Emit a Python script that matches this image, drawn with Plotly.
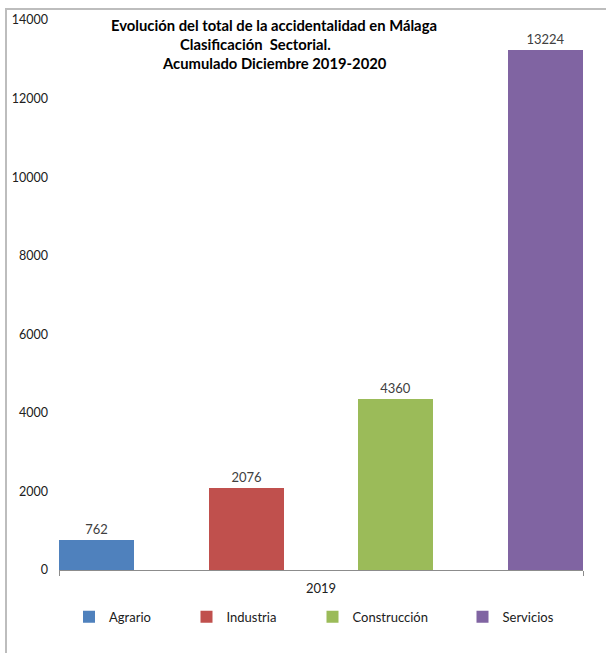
import plotly.graph_objects as go

# ---- data ----
categories = ["2019"]
sectors = ["Agrario", "Industria", "Construcción", "Servicios"]
values = [762, 2076, 4360, 13224]
colors = ["#4F81BD", "#C0504D", "#9BBB59", "#8064A2"]
y_ticks = [0, 2000, 4000, 6000, 8000, 10000, 12000, 14000]
title_lines = [
    "Evolución del total de la accidentalidad en Málaga",
    "Clasificación  Sectorial.",
    "Acumulado Diciembre 2019-2020",
]

# ---- geometry ----
W, H = 606, 653
L, R, T, B = 59, 23, 18, 83
PW = W - L - R
PH = H - T - B
FONT = "Lato"


def px_x(x):
    return (x - L) / PW


def px_y(y):
    return (H - B - y) / PH


fig = go.Figure()
bar_w = 1 / 7
legend_sym_px = [93, 210.5, 336.5, 486.5]
legend_names = ["legend", "legend2", "legend3", "legend4"]

for i, (s, v, c) in enumerate(zip(sectors, values, colors)):
    fig.add_trace(
        go.Bar(
            x=categories,
            y=[v],
            name=s,
            marker=dict(color=c, line=dict(width=0)),
            width=bar_w,
            offset=-0.5 + 2 * i * bar_w,
            text=[str(v)],
            textposition="outside",
            textfont=dict(family=FONT, size=13, color="#404040"),
            cliponaxis=False,
            legend=legend_names[i],
            hoverinfo="name+y",
        )
    )

legend_cfg = {}
for i, name in enumerate(legend_names):
    legend_cfg[name] = dict(
        x=px_x(legend_sym_px[i] - 24),
        xanchor="left",
        y=px_y(617),
        yanchor="middle",
        orientation="h",
        font=dict(family=FONT, size=13, color="#202020"),
        bgcolor="rgba(0,0,0,0)",
        borderwidth=0,
    )

annotations = []
title_y = [23, 42, 61]
title_cx = [274, 255, 274]
for txt, yy, cx in zip(title_lines, title_y, title_cx):
    annotations.append(
        dict(
            text="<b>" + txt.replace("  ", "&nbsp; ") + "</b>",
            x=px_x(cx),
            y=px_y(yy),
            xref="paper",
            yref="paper",
            xanchor="center",
            yanchor="middle",
            showarrow=False,
            font=dict(family=FONT, size=14.8, color="#000000"),
        )
    )

fig.update_layout(
    width=W,
    height=H,
    margin=dict(l=L, r=R, t=T, b=B, pad=0),
    paper_bgcolor="white",
    plot_bgcolor="white",
    barmode="group",
    bargap=0,
    bargroupgap=0,
    annotations=annotations,
    showlegend=True,
    shapes=[
        dict(
            type="rect",
            xref="paper",
            yref="paper",
            x0=px_x(6),
            x1=px_x(640),
            y0=px_y(7),
            y1=px_y(700),
            line=dict(color="#BDBDBD", width=2),
            fillcolor="rgba(0,0,0,0)",
            layer="above",
        )
    ],
    **legend_cfg,
)

fig.update_xaxes(
    type="category",
    range=[-0.5, 0.5],
    showline=True,
    linecolor="#8C8C8C",
    linewidth=1,
    ticks="outside",
    tickson="boundaries",
    ticklen=5,
    tickcolor="#8C8C8C",
    showgrid=False,
    zeroline=False,
    ticklabelstandoff=6,
    tickfont=dict(family=FONT, size=13, color="#202020"),
    fixedrange=True,
)
fig.update_yaxes(
    range=[0, 14000],
    tickvals=y_ticks,
    ticktext=[str(t) for t in y_ticks],
    showline=False,
    showgrid=False,
    zeroline=False,
    ticks="",
    ticklabelstandoff=10,
    tickfont=dict(family=FONT, size=12.5, color="#202020"),
    fixedrange=True,
)

fig.write_html(
    "out.html",
    config={"displayModeBar": False},
    post_script="document.body.style.margin='0';",
)
